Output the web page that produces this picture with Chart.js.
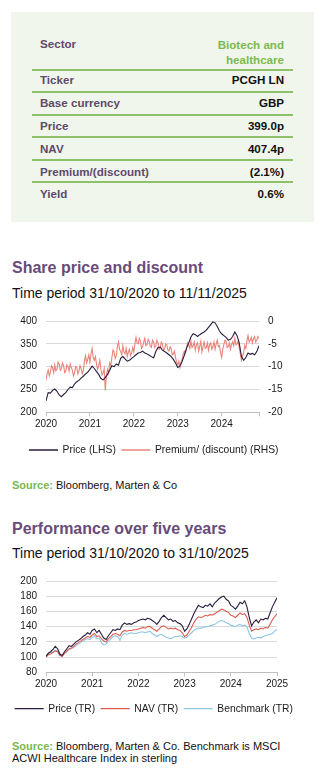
<!DOCTYPE html>
<html>
<head>
<meta charset="utf-8">
<script src="https://cdn.jsdelivr.net/npm/chart.js@4.4.0/dist/chart.umd.min.js"></script>
<style>
body { margin: 0; width: 325px; height: 770px; background: #fff; font-family: "Liberation Sans", Arial, sans-serif; position: relative; overflow: hidden; }
.box { position: absolute; left: 11px; top: 12px; width: 303px; height: 210px; background: #f0f6eb; }
.k, .v { position: absolute; font-size: 11.6px; font-weight: bold; line-height: 14px; white-space: nowrap; }
.k { left: 40px; color: #5e4a6c; }
.v { right: 41px; text-align: right; color: #111; }
.v.green { color: #7cb951; line-height: 15px; }
.rule { position: absolute; left: 32px; width: 261px; height: 1.5px; background: #8dc26a; }
.title { position: absolute; left: 12px; font-size: 16px; font-weight: bold; color: #694b7a; line-height: 20px; white-space: nowrap; }
.sub { position: absolute; left: 12px; font-size: 14px; color: #111; line-height: 16px; white-space: nowrap; }
.src { position: absolute; left: 12px; font-size: 11px; color: #111; line-height: 11.6px; white-space: nowrap; }
.src b { color: #7bb84e; }
canvas { position: absolute; left: 0; }
</style>
</head>
<body>
<div class="box"></div>
<div class="k" style="top:37px">Sector</div>
<div class="v green" style="top:36.5px">Biotech and<br>healthcare</div>
<div class="rule" style="top:69px"></div>
<div class="k" style="top:73px">Ticker</div>
<div class="v" style="top:73px">PCGH LN</div>
<div class="rule" style="top:91px"></div>
<div class="k" style="top:96px">Base currency</div>
<div class="v" style="top:96px">GBP</div>
<div class="rule" style="top:114px"></div>
<div class="k" style="top:118.7px">Price</div>
<div class="v" style="top:118.7px">399.0p</div>
<div class="rule" style="top:136px"></div>
<div class="k" style="top:141.7px">NAV</div>
<div class="v" style="top:141.7px">407.4p</div>
<div class="rule" style="top:159px"></div>
<div class="k" style="top:164.7px">Premium/(discount)</div>
<div class="v" style="top:164.7px">(2.1%)</div>
<div class="rule" style="top:181px"></div>
<div class="k" style="top:187px">Yield</div>
<div class="v" style="top:187px">0.6%</div>

<div class="title" style="top:258px">Share price and discount</div>
<div class="sub" style="top:285px">Time period 31/10/2020 to 11/11/2025</div>
<canvas id="spChart" width="308" height="170" style="top:300px"></canvas>
<div class="src" style="top:480px"><b>Source:</b> Bloomberg, Marten &amp; Co</div>

<div class="title" style="top:519px">Performance over five years</div>
<div class="sub" style="top:545px">Time period 31/10/2020 to 31/10/2025</div>
<canvas id="perfChart" width="308" height="165" style="top:560px"></canvas>
<div class="src" style="top:741px"><b>Source:</b> Bloomberg, Marten &amp; Co. Benchmark is MSCI<br>ACWI Healthcare Index in sterling</div>

<script>
// share price chart, x in years from 31/10/2020
const spStart = 2020;
const spPriceStep = 0.05;
const spPremStep = 0.025;
const spEnd = 2024.85;
const spYearTicks = [2020, 2021, 2022, 2023, 2024];
const spPrice = [
    225, 243, 242, 248, 251, 246, 238, 234, 239, 243,
    250, 255, 254, 262, 267, 270, 275, 279, 284, 288,
    294, 301, 296, 289, 283, 274, 271, 276, 283, 292,
    302, 300, 306, 303, 318, 322, 317, 312, 314, 318,
    322, 326, 330, 331, 334, 330, 328, 325, 322, 319,
    333, 342, 343, 336, 333, 330, 326, 322, 316, 308,
    298, 301, 312, 325, 340, 352, 365, 372, 370, 366,
    370, 373, 376, 380, 386, 392, 398, 396, 388, 378,
    372, 368, 364, 358, 360, 366, 376, 368, 352, 322,
    314, 320, 330, 327, 329, 326, 333, 346
];
const spPremium = [
    -13.0, -11.6, -10.8, -12.0, -11.2, -9.8, -10.2, -11.3, -9.6, -10.9,
    -10.6, -9.0, -9.4, -10.8, -10.4, -9.2, -9.8, -11.3, -11.0, -9.6,
    -10.0, -11.0, -9.4, -10.2, -10.8, -12.0, -11.4, -10.0, -10.2, -11.6,
    -11.0, -9.8, -10.4, -11.6, -10.9, -8.8, -7.6, -9.2, -8.4, -7.4,
    -9.0, -7.2, -6.0, -8.0, -8.6, -7.8, -9.4, -10.6, -9.8, -8.6,
    -10.6, -11.8, -11.4, -10.4, -15.2, -12.0, -10.6, -11.4, -9.2, -9.8,
    -8.0, -6.4, -6.8, -8.2, -7.6, -5.6, -4.6, -6.2, -6.6, -7.4,
    -5.4, -6.8, -7.2, -6.0, -7.8, -6.8, -6.2, -7.6, -7.0, -5.8,
    -6.8, -5.0, -3.6, -4.8, -5.0, -3.8, -4.4, -6.0, -5.6, -4.6,
    -3.8, -5.4, -5.2, -4.0, -4.4, -5.6, -5.8, -4.2, -4.6, -5.8,
    -5.4, -4.2, -4.8, -6.2, -6.0, -4.6, -5.0, -6.4, -6.2, -5.0,
    -5.2, -6.4, -6.6, -5.6, -6.0, -7.4, -7.2, -6.6, -8.0, -9.0,
    -9.6, -8.8, -10.2, -9.0, -8.4, -7.2, -6.6, -7.0, -5.8, -4.8,
    -5.2, -6.0, -4.4, -5.8, -5.4, -4.6, -6.4, -5.2, -4.8, -6.6,
    -5.6, -4.4, -6.8, -5.6, -4.6, -6.0, -5.8, -4.8, -6.4, -5.2,
    -4.8, -6.2, -5.6, -4.6, -6.2, -5.0, -4.2, -5.6, -5.4, -6.8,
    -8.0, -6.2, -5.2, -4.2, -4.4, -5.8, -5.6, -4.8, -6.2, -5.2,
    -4.6, -5.4, -3.8, -5.2, -5.0, -4.4, -5.8, -7.2, -8.6, -7.6,
    -7.0, -5.4, -6.0, -4.4, -3.2, -4.6, -4.2, -3.6, -4.8, -3.8,
    -3.4, -4.6, -4.2, -3.4, -3.8
];

// performance chart, rebased to 100
const perfStart = 2020;
const perfStep = 0.05;
const perfYearTicks = [2020, 2021, 2022, 2023, 2024, 2025];
const perfPrice = [
    101, 105, 107, 110, 114, 111, 104, 102, 107, 111,
    115, 114, 117, 120, 122, 124, 127, 129, 132, 130,
    135, 137, 132, 135, 130, 125, 123, 128, 132, 136,
    135, 137, 136, 142, 145, 143, 144, 143, 145, 146,
    148, 149, 150, 149, 151, 150, 148, 146, 143, 147,
    152, 155, 152, 149, 150, 147, 148, 145, 144, 141,
    134, 137, 143, 150, 157, 163, 168, 166, 165, 168,
    167, 170, 166, 171, 174, 177, 179, 180, 176, 174,
    168, 166, 163, 167, 172, 170, 174, 166, 152, 141,
    146, 149, 145, 150, 149, 151, 150, 158, 166, 172, 178
];
const perfNav = [
    100, 103, 104, 106, 108, 107, 102, 101, 105, 108,
    111, 112, 114, 117, 119, 121, 123, 125, 127, 126,
    129, 131, 127, 128, 124, 121, 120, 124, 127, 130,
    131, 130, 128, 133, 135, 134, 135, 135, 136, 136,
    137, 138, 139, 138, 140, 140, 138, 136, 134, 137,
    140, 141, 139, 137, 138, 137, 138, 136, 135, 132,
    127, 129, 134, 139, 145, 150, 153, 152, 153, 155,
    154, 156, 155, 157, 159, 161, 163, 162, 160, 159,
    155, 154, 152, 155, 158, 156, 157, 152, 142, 134,
    136, 137, 136, 138, 137, 139, 138, 143, 149, 153, 157
];
const perfBench = [
    102, 105, 106, 107, 109, 108, 103, 101, 105, 107,
    110, 111, 113, 115, 117, 119, 121, 123, 124, 123,
    126, 128, 124, 125, 119, 116, 117, 121, 124, 127,
    128, 127, 122, 129, 131, 130, 131, 132, 131, 131,
    132, 133, 133, 132, 133, 134, 131, 129, 127, 129,
    130, 128, 126, 125, 124, 126, 127, 127, 128, 127,
    125, 126, 129, 132, 135, 137, 138, 138, 139, 140,
    140, 141, 142, 143, 145, 147, 148, 147, 145, 144,
    142, 141, 140, 142, 143, 141, 142, 139, 131, 125,
    124, 125, 126, 125, 127, 128, 129, 130, 131, 134, 137
];

const FONT = "'Liberation Sans', Arial, sans-serif";
const TICK_COLOR = "#1a1a1a";

function toPoints(values, start, step) {
    return values.map((v, i) => ({ x: start + i * step, y: v }));
}

function lineSet(label, values, start, step, color, axis) {
    return {
        label: label,
        data: toPoints(values, start, step),
        borderColor: color,
        backgroundColor: color,
        borderWidth: 1.1,
        pointRadius: 0,
        tension: 0,
        yAxisID: axis || "y"
    };
}

function xAxis(min, max, ticks, height) {
    return {
        type: "linear",
        min: min,
        max: max,
        afterBuildTicks: (scale) => { scale.ticks = ticks.map(v => ({ value: v })); },
        afterFit: (scale) => { scale.height = height; },
        grid: { drawOnChartArea: false, drawTicks: true, tickLength: 4, color: "#bfbfbf" },
        border: { color: "#bfbfbf" },
        ticks: {
            padding: 2,
            maxRotation: 0,
            autoSkip: false,
            color: TICK_COLOR,
            font: { family: FONT, size: 10 },
            callback: (v) => Number.isInteger(v) ? String(v) : ""
        }
    };
}

function yAxis(min, max, step, position, width, gridOn) {
    return {
        position: position,
        min: min,
        max: max,
        afterFit: (scale) => { scale.width = width; },
        grid: { display: gridOn, drawTicks: false, color: "#d9d9d9" },
        border: { display: false },
        ticks: { stepSize: step, autoSkip: false, padding: 9, color: TICK_COLOR, font: { family: FONT, size: 10 } }
    };
}

// empty right axis that only reserves room, so the legend keeps the full width
function spacerAxis(width) {
    return {
        position: "right",
        min: 0,
        max: 1,
        afterFit: (scale) => { scale.width = width; },
        grid: { display: false },
        border: { display: false },
        ticks: { display: false }
    };
}

function legendOpts() {
    return {
        position: "bottom",
        labels: {
            boxWidth: 28,
            boxHeight: 0.2,
            padding: 6,
            color: TICK_COLOR,
            font: { family: FONT, size: 10.3 }
        }
    };
}

new Chart(document.getElementById("spChart"), {
    type: "line",
    data: {
        datasets: [
            lineSet("Price (LHS)", spPrice, spStart, spPriceStep, "#2b1b3d", "y"),
            lineSet("Premium/ (discount) (RHS)", spPremium, spStart, spPremStep, "#e8847a", "y2")
        ]
    },
    options: {
        responsive: false,
        animation: false,
        layout: { padding: { top: 21, bottom: 4.85, left: 0, right: 0 } },
        plugins: { legend: legendOpts(), tooltip: { enabled: false } },
        scales: {
            x: xAxis(spStart, spEnd, spYearTicks.concat([spEnd]), 26.55),
            y: yAxis(200, 400, 50, "left", 46, true),
            y2: yAxis(-20, 0, 5, "right", 49, false)
        }
    }
});

new Chart(document.getElementById("perfChart"), {
    type: "line",
    data: {
        datasets: [
            lineSet("Price (TR)", perfPrice, perfStart, perfStep, "#2b1b3d"),
            lineSet("NAV (TR)", perfNav, perfStart, perfStep, "#dc5d50"),
            lineSet("Benchmark (TR)", perfBench, perfStart, perfStep, "#8fc6e4")
        ]
    },
    options: {
        responsive: false,
        animation: false,
        layout: { padding: { top: 21, bottom: 1.15, left: 0, right: 0 } },
        plugins: { legend: legendOpts(), tooltip: { enabled: false } },
        scales: {
            x: xAxis(2020, 2025, perfYearTicks, 25.25),
            y: yAxis(80, 200, 20, "left", 46, true),
            pad: spacerAxis(31)
        }
    }
});
</script>
</body>
</html>
